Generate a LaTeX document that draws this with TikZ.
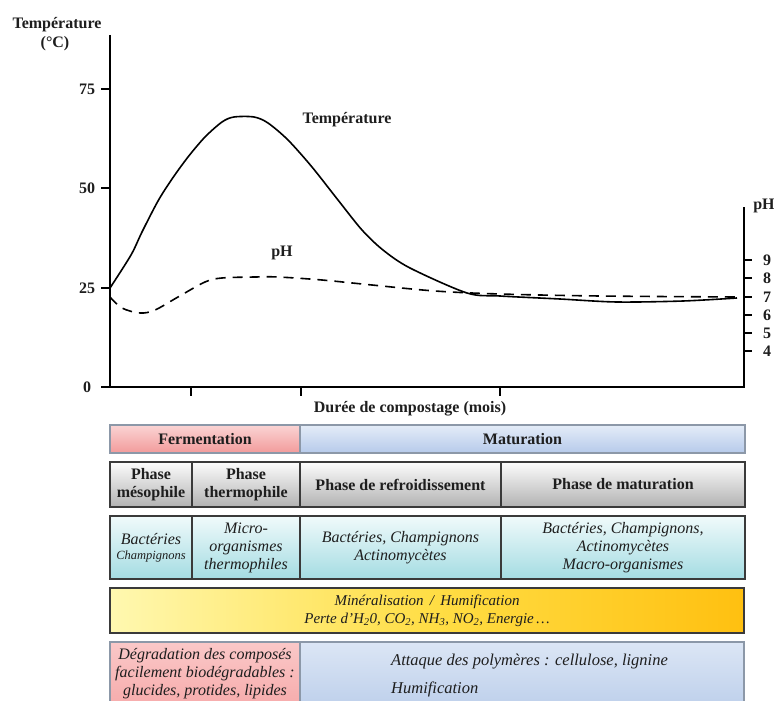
\documentclass[tikz,border=0pt]{standalone}
\usepackage{fontspec}
\setmainfont{Liberation Serif}
\usetikzlibrary{shadows}
\definecolor{txt}{HTML}{1E1E1E}
\definecolor{bord}{HTML}{3A3A3A}
\definecolor{lbord}{HTML}{8C98A8}
\begin{document}
\begin{tikzpicture}[x=1pt,y=-1pt,
  axis/.style={line width=1.6pt,black},
  curve/.style={line width=1.6pt,black},
  blab/.style={font=\fontsize{16}{18}\selectfont\bfseries,inner sep=0pt,text=txt},
  ilab/.style={font=\fontsize{16}{18}\selectfont\itshape,inner sep=0pt,text=txt,align=center},
  cell/.style={draw=bord,line width=1.2pt,inner sep=0pt,outer sep=0pt,anchor=north west,
     drop shadow={shadow xshift=1.2pt,shadow yshift=-1.2pt,opacity=0.35}},
  lcell/.style={cell,draw=lbord},
  pinkc/.style={top color={rgb,255:red,250;green,212;blue,212},bottom color={rgb,255:red,242;green,155;blue,155}},
  bluec/.style={top color={rgb,255:red,228;green,236;blue,248},bottom color={rgb,255:red,182;green,202;blue,234}},
  grayc/.style={top color={rgb,255:red,252;green,252;blue,252},bottom color={rgb,255:red,178;green,178;blue,178}},
  cyanc/.style={top color={rgb,255:red,240;green,250;blue,251},bottom color={rgb,255:red,164;green,220;blue,226}},
]
\useasboundingbox (0,0) rectangle (774,701);
\clip (0,0) rectangle (774,701);
\fill[white] (0,0) rectangle (774,701);

% ---------- axes ----------
\coordinate (ytop) at (110,35);
\coordinate (orig) at (110,387);
\coordinate (xend) at (744,387);
\coordinate (rtop) at (744,207);
\draw[axis] (ytop) -- (orig) -- (xend) -- (rtop);

% left ticks and labels
\foreach \v/\yy in {75/89,50/188,25/288,0/387}{
  \draw[axis] (101,\yy) -- (110,\yy);
  \node[blab] (yl\v) at (87,\yy) {\v};
}
% x ticks
\foreach \xx in {191,301,500}{
  \draw[axis] (\xx,387) -- (\xx,396);
}
% right ticks
\foreach \v/\yy in {9/260,8/278,7/297,6/315,5/333,4/351}{
  \draw[axis] (744,\yy) -- (752,\yy);
  \node[blab] (pl\v) at (767,\yy) {\v};
}

\node[blab] (ytitle) at (57,25) {Température};
\node[blab] (yunit) at (55,44) {(°C)};
\node[blab] (phtitle) at (764,206) {pH};
\node[blab] (xtitle) at (410,409) {Durée de compostage (mois)};

% ---------- curves ----------
\draw[curve,line join=round] plot[smooth,tension=0.5] coordinates {
 (110,288) (131,255) (142,232) (158,201) (172,179) (188,157) (205,137)
 (222,122) (234,117) (254,117) (268,123) (288,140) (312,167) (338,200)
 (362,230) (383,250) (410,268) (467,293) (500,296)
 (560,299) (617,302) (683,301) (737,298)};
\draw[curve,dash pattern=on 10pt off 7pt] plot[smooth,tension=0.55] coordinates {
 (110,297) (122,308) (140,313) (155,310) (178,297) (205,282) (222,278)
 (255,277) (278,277) (322,280) (372,285) (435,291) (500,294) (600,296) (737,297)};

\node[blab] (tlab) at (347,120) {Température};
\node[blab] (phlab) at (282,253) {pH};

% ---------- table ----------
\node[lcell,pinkc,minimum width=190pt,minimum height=28pt] (ferm) at (110,425) {};
\node[lcell,bluec,minimum width=445pt,minimum height=28pt] (matu) at (300,425) {};
\node[blab] (fermt) at (ferm.center) {Fermentation};
\node[blab] (matut) at (matu.center) {Maturation};

\node[cell,grayc,minimum width=82pt,minimum height=45pt] (p1) at (110,462) {};
\node[cell,grayc,minimum width=108pt,minimum height=45pt] (p2) at (192,462) {};
\node[cell,grayc,minimum width=201pt,minimum height=45pt] (p3) at (300,462) {};
\node[cell,grayc,minimum width=244pt,minimum height=45pt] (p4) at (501,462) {};
\node[blab,align=center] (p1t) at (p1.center) {Phase\\mésophile};
\node[blab,align=center] (p2t) at (p2.center) {Phase\\thermophile};
\node[blab] (p3t) at (p3.center) {Phase de refroidissement};
\node[blab] (p4t) at (p4.center) {Phase de maturation};

\node[cell,cyanc,minimum width=82pt,minimum height=63pt] (o1) at (110,516) {};
\node[cell,cyanc,minimum width=108pt,minimum height=63pt] (o2) at (192,516) {};
\node[cell,cyanc,minimum width=201pt,minimum height=63pt] (o3) at (300,516) {};
\node[cell,cyanc,minimum width=244pt,minimum height=63pt] (o4) at (501,516) {};
\node[ilab] (o1t) at (o1.center) {Bactéries\\[-3pt]{\fontsize{12.5}{14}\selectfont Champignons}};
\node[ilab] (o2t) at (o2.center) {Micro-\\organismes\\thermophiles};
\node[ilab] (o3t) at (o3.center) {Bactéries, Champignons\\Actinomycètes};
\node[ilab] (o4t) at (o4.center) {Bactéries, Champignons,\\Actinomycètes\\Macro-organismes};

\node[cell,left color={rgb,255:red,255;green,248;blue,176},right color={rgb,255:red,255;green,192;blue,16},
      middle color={rgb,255:red,255;green,222;blue,70},minimum width=634pt,minimum height=45pt] (mine) at (110,588) {};
\node[ilab,font=\fontsize{15}{18}\selectfont\itshape] (minet) at (mine.center)
  {Minéralisation \,/\, Humification\\Perte d’H\textsubscript{2}0, CO\textsubscript{2}, NH\textsubscript{3}, NO\textsubscript{2}, Energie\,\ldots};

\node[lcell,top color={rgb,255:red,250;green,200;blue,200},bottom color={rgb,255:red,246;green,168;blue,168},
      minimum width=190pt,minimum height=72pt] (deg) at (110,642) {};
\node[lcell,top color={rgb,255:red,220;green,230;blue,245},bottom color={rgb,255:red,186;green,205;blue,234},
      minimum width=444pt,minimum height=72pt] (att) at (300,642) {};
\node[ilab,font=\fontsize{16}{18}\selectfont\itshape,anchor=north] (degt) at (205,648)
  {Dégradation des composés\\facilement biodégradables :\\glucides, protides, lipides};
\node[ilab,font=\fontsize{16.5}{18}\selectfont\itshape,anchor=west] (att1) at (391,662) {Attaque des polymères : cellulose, lignine};
\node[ilab,font=\fontsize{16.5}{18}\selectfont\itshape,anchor=west] (att2) at (391,689) {Humification};
\end{tikzpicture}
\end{document}
